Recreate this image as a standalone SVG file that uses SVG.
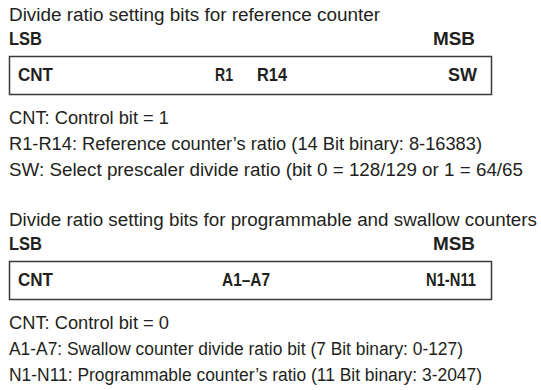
<svg xmlns="http://www.w3.org/2000/svg" width="541" height="390" viewBox="0 0 541 390">
<style>
text{font-family:"Liberation Sans Narrow","Liberation Sans","DejaVu Sans Condensed",sans-serif;font-size:18px;fill:#231f20}
.b{font-weight:bold}
.box{fill:#fff;stroke:#3a3a3a;stroke-width:1.5}
</style>
<rect width="541" height="390" fill="#fff"/>
<g id="section1">
<text x="9" y="21" textLength="371" lengthAdjust="spacingAndGlyphs">Divide ratio setting bits for reference counter</text>
<text class="b" x="9" y="45" textLength="33" lengthAdjust="spacingAndGlyphs">LSB</text>
<text class="b" x="433" y="45" textLength="42" lengthAdjust="spacingAndGlyphs">MSB</text>
<g id="reg1">
<rect class="box" x="9.5" y="56.5" width="482" height="38"/>
<text class="b" x="18" y="81" textLength="35" lengthAdjust="spacingAndGlyphs">CNT</text>
<text class="b" x="215" y="81" textLength="18" lengthAdjust="spacingAndGlyphs">R1</text>
<text class="b" x="257" y="81" textLength="30" lengthAdjust="spacingAndGlyphs">R14</text>
<text class="b" x="448" y="81" textLength="29" lengthAdjust="spacingAndGlyphs">SW</text>
</g>
<text x="9" y="124" textLength="160" lengthAdjust="spacingAndGlyphs">CNT: Control bit = 1</text>
<text x="9" y="150" textLength="473" lengthAdjust="spacingAndGlyphs">R1-R14: Reference counter’s ratio (14 Bit binary: 8-16383)</text>
<text x="9" y="176" textLength="514" lengthAdjust="spacingAndGlyphs">SW: Select prescaler divide ratio (bit 0 = 128/129 or 1 = 64/65</text>
</g>
<g id="section2">
<text x="9" y="226" textLength="528" lengthAdjust="spacingAndGlyphs">Divide ratio setting bits for programmable and swallow counters</text>
<text class="b" x="9" y="250" textLength="33" lengthAdjust="spacingAndGlyphs">LSB</text>
<text class="b" x="433" y="250" textLength="42" lengthAdjust="spacingAndGlyphs">MSB</text>
<g id="reg2">
<rect class="box" x="9.5" y="261.5" width="482" height="38"/>
<text class="b" x="18" y="286" textLength="35" lengthAdjust="spacingAndGlyphs">CNT</text>
<text class="b" x="222" y="286" textLength="48" lengthAdjust="spacingAndGlyphs">A1–A7</text>
<text class="b" x="426" y="286" textLength="50" lengthAdjust="spacingAndGlyphs">N1-N11</text>
</g>
<text x="9" y="329" textLength="160" lengthAdjust="spacingAndGlyphs">CNT: Control bit = 0</text>
<text x="9" y="355" textLength="454" lengthAdjust="spacingAndGlyphs">A1-A7: Swallow counter divide ratio bit (7 Bit binary: 0-127)</text>
<text x="9" y="381" textLength="473" lengthAdjust="spacingAndGlyphs">N1-N11: Programmable counter’s ratio (11 Bit binary: 3-2047)</text>
</g>
</svg>
